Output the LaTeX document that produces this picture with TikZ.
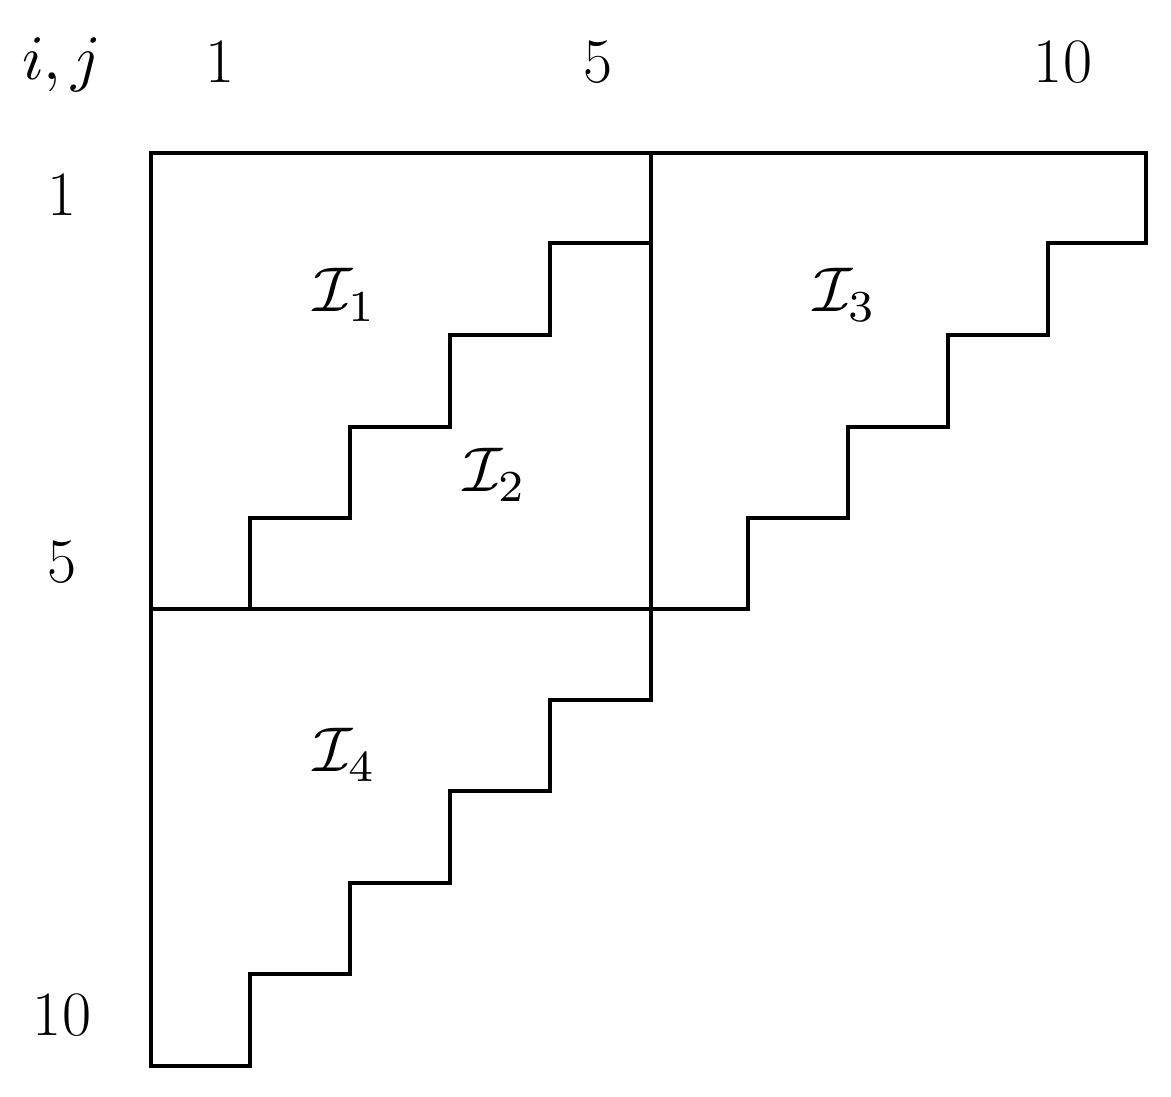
\documentclass[tikz,border=0pt]{standalone}
\begin{document}
\begin{tikzpicture}[x=0.02cm,y=-0.02cm,line width=2.2pt,line cap=rect,
  lab/.style={font=\fontsize{36}{40}\selectfont,inner sep=0pt},
  mlab/.style={inner sep=0pt,scale=3.6}]
\useasboundingbox (0,0) rectangle (1171,1097);
\draw (151,153) -- (1146,153) -- (1146,243) -- (1048,243) -- (1048,335) -- (948,335) -- (948,427) -- (848,427) -- (848,518) -- (748,518) -- (748,609) -- (151,609);
\draw (151,153) -- (151,1066) -- (250,1066) -- (250,974) -- (350,974) -- (350,883) -- (450,883) -- (450,791) -- (550,791) -- (550,700) -- (651,700) -- (651,153);
\draw (651,243) -- (550,243) -- (550,335) -- (450,335) -- (450,427) -- (350,427) -- (350,518) -- (250,518) -- (250,609);
\node[mlab] (ij) at (62,65) {$i,j$};
\node[lab] (c1) at (220,62) {1};
\node[lab] (c5) at (598,62) {5};
\node[lab] (c10) at (1063,62) {10};
\node[lab] (r1) at (62,195) {1};
\node[lab] (r5) at (62,562) {5};
\node[lab] (r10) at (62,1015) {10};
\node[mlab] (i1) at (345,295) {$\mathcal{I}_1$};
\node[mlab] (i2) at (495,475) {$\mathcal{I}_2$};
\node[mlab] (i3) at (845,295) {$\mathcal{I}_3$};
\node[mlab] (i4) at (345,755) {$\mathcal{I}_4$};
\end{tikzpicture}
\end{document}
